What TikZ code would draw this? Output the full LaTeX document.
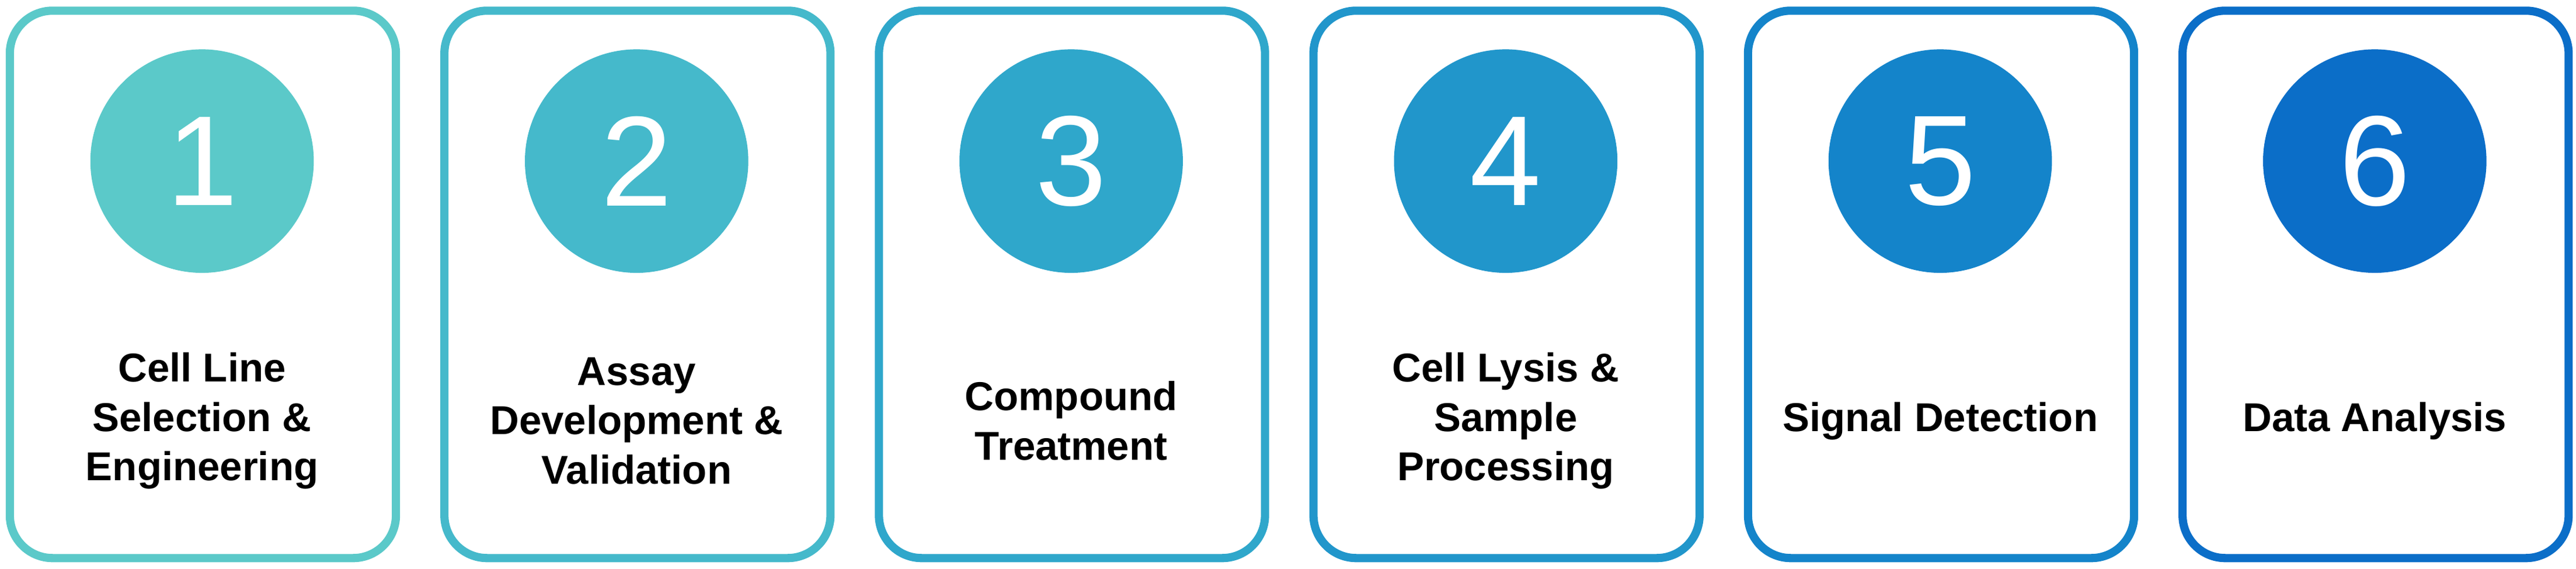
\documentclass[tikz,border=0pt]{standalone}
\usepackage{fontspec}
\setmainfont{Liberation Sans}
\definecolor{stepA}{HTML}{5BC9C9}
\definecolor{stepB}{HTML}{45B9CB}
\definecolor{stepC}{HTML}{2FA7CB}
\definecolor{stepD}{HTML}{2196CB}
\definecolor{stepE}{HTML}{1484CA}
\definecolor{stepF}{HTML}{0B6EC8}
\tikzset{
    card/.style={draw=#1, line width=5pt, rounded corners=26pt, minimum width=235pt, minimum height=333pt, fill=white},
    badge/.style={circle, fill=#1, minimum size=136pt, inner sep=0pt, text=white, font=\fontsize{78}{78}\selectfont},
    caption/.style={align=center, font=\bfseries\fontsize{24.5}{30}\selectfont}
}
\begin{document}
\begin{tikzpicture}[x=1pt, y=1pt]
    \useasboundingbox (0,0) rectangle (1568,346);

    % step cards
    \foreach \i/\col/\txt in {1/stepA/{Cell Line\\Selection \&\\Engineering},
                              2/stepB/{Assay\\Development \&\\Validation},
                              3/stepC/{Compound\\Treatment},
                              4/stepD/{Cell Lysis \&\\Sample\\Processing},
                              5/stepE/{Signal Detection},
                              6/stepF/{Data Analysis}} {
        \node[card=\col] (card\i) at ({123.5+264.5*(\i-1)}, 173) {};
        \node[badge=\col] (badge\i) at ({123+264.5*(\i-1)}, 248) {\i};
        \node[caption] (label\i) at ({123+264.5*(\i-1)}, 90) {\txt};
    }
\end{tikzpicture}
\end{document}
